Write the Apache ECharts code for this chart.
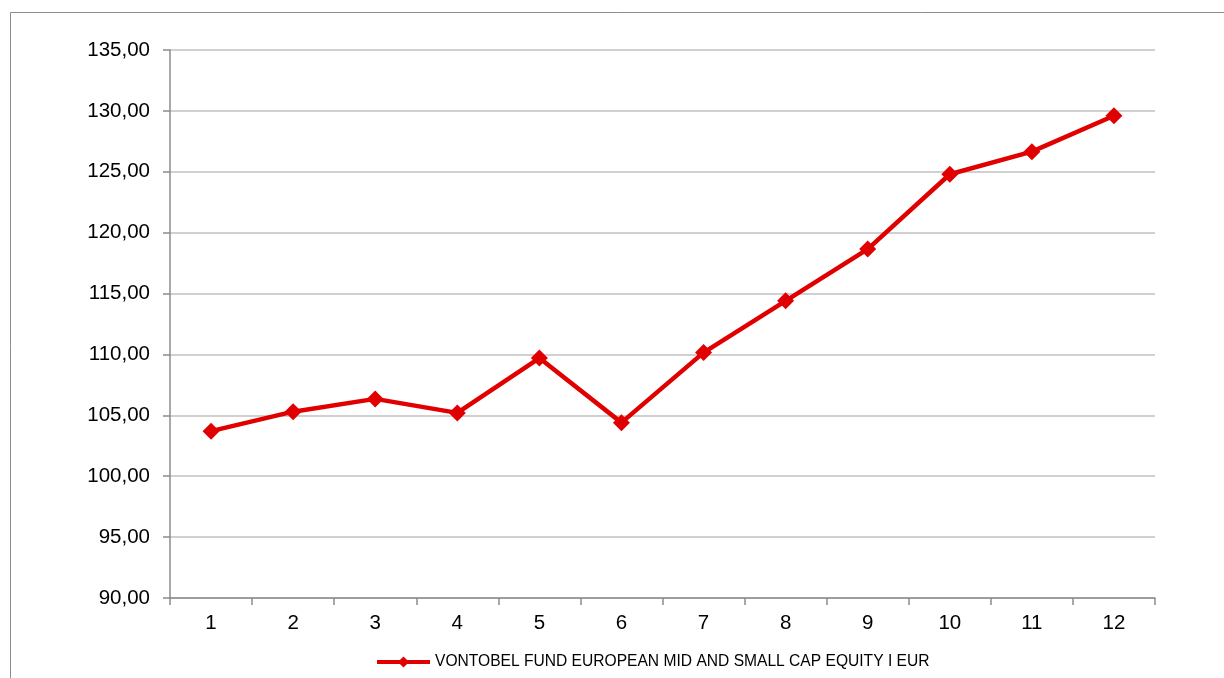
<!DOCTYPE html>
<html>
<head>
<meta charset="utf-8">
<script src="https://cdn.jsdelivr.net/npm/echarts@6/dist/echarts.min.js"></script>
<style>
html,body{margin:0;padding:0;background:#fff;}
#chart{width:1224px;height:678px;}
</style>
</head>
<body>
<div id="chart"></div>
<script>
const categories = ['1','2','3','4','5','6','7','8','9','10','11','12'];
const seriesName = 'VONTOBEL FUND EUROPEAN MID AND SMALL CAP EQUITY I EUR';
const values = [103.7, 105.3, 106.35, 105.2, 109.7, 104.4, 110.15, 114.4, 118.65, 124.8, 126.65, 129.6];

const chart = echarts.init(document.getElementById('chart'), null, {renderer:'canvas'});
const font = '"Liberation Sans", Arial, sans-serif';
chart.setOption({
  animation:false,
  backgroundColor:'#fff',
  graphic:[{
    type:'rect', silent:true,
    shape:{x:10.5,y:12.5,width:1400,height:1000},
    style:{fill:'none',stroke:'#8c8c8c',lineWidth:1}
  }],
  grid:{left:170,right:69,top:50,bottom:80},
  xAxis:{
    type:'category', data:categories, boundaryGap:true,
    axisLine:{lineStyle:{color:'#8c8c8c',width:1.5}},
    axisTick:{show:true,length:7,inside:false,lineStyle:{color:'#8c8c8c',width:1.5}},
    axisLabel:{color:'#000',fontSize:20.5,fontFamily:font,margin:15}
  },
  yAxis:{
    type:'value', min:90, max:135, interval:5,
    axisLine:{show:true,lineStyle:{color:'#8c8c8c',width:1.5}},
    axisTick:{show:true,length:7,lineStyle:{color:'#8c8c8c',width:1.5}},
    splitLine:{lineStyle:{color:'#c0c0c0',width:1.5}},
    axisLabel:{color:'#000',fontSize:20.5,fontFamily:font,margin:20,
      formatter:v=>v.toFixed(2).replace('.',',')}
  },
  legend:{
    data:[seriesName], left:370, top:649,
    itemWidth:53, itemHeight:14, itemGap:10,
    lineStyle:{width:4},
    textStyle:{color:'#000',fontSize:15.6,fontFamily:font}
  },
  series:[{
    name:seriesName, type:'line', data:values,
    symbol:'diamond', symbolSize:17,
    lineStyle:{color:'#e00000',width:4.5},
    itemStyle:{color:'#e00000'}
  }]
});
</script>
</body>
</html>
